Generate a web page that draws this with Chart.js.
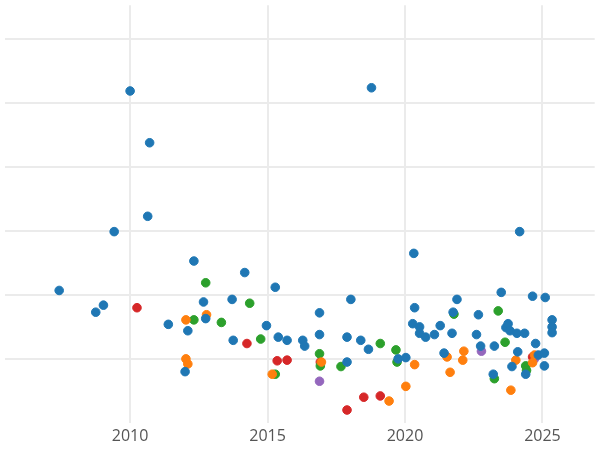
<!DOCTYPE html>
<html lang="en">
<head>
    <meta charset="UTF-8">
    <title>Scatter</title>
    <script src="https://cdn.jsdelivr.net/npm/chart.js"></script>
    <style>
        html, body { margin: 0; padding: 0; background: #fff; }
        #wrap { width: 600px; height: 450px; }
    </style>
</head>
<body>
    <div id="wrap"><canvas id="chartCanvas"></canvas></div>
    <script>
        // [year, value] pairs per group
        const blueData = [[2007.42,1.07],[2008.75,0.73],[2009.03,0.84],[2009.42,1.99],[2010.0,4.19],[2010.71,3.38],[2010.64,2.23],[2011.39,0.54],[2012.0,-0.2],[2012.1,0.44],[2012.32,1.53],[2012.67,0.89],[2012.75,0.63],[2013.75,0.29],[2013.71,0.93],[2014.17,1.35],[2014.96,0.52],[2015.28,1.12],[2015.39,0.34],[2015.71,0.29],[2016.28,0.29],[2016.35,0.2],[2016.89,0.38],[2016.89,0.72],[2017.89,0.34],[2018.03,0.93],[2018.39,0.29],[2018.67,0.15],[2018.78,4.24],[2019.75,0],[2020.03,0.02],[2020.28,0.55],[2020.35,0.8],[2020.32,1.65],[2020.53,0.4],[2020.53,0.5],[2020.75,0.34],[2021.07,0.38],[2021.28,0.52],[2021.42,0.09],[2021.71,0.4],[2021.75,0.73],[2021.89,0.93],[2022.67,0.69],[2022.75,0.2],[2022.6,0.38],[2023.25,0.2],[2023.21,-0.24],[2023.5,1.04],[2023.67,0.49],[2023.75,0.55],[2023.82,0.44],[2023.89,-0.12],[2024.07,0.4],[2024.1,0.11],[2024.17,1.99],[2024.35,0.4],[2024.39,-0.24],[2024.64,0.98],[2024.75,0.24],[2024.85,0.06],[2025.07,0.09],[2025.07,-0.11],[2025.1,0.96],[2025.35,0.61],[2025.35,0.5],[2025.35,0.41],[2017.89,-0.05]];
        const orangeData = [[2012.03,0.61],[2012.03,0],[2012.1,-0.08],[2012.78,0.69],[2015.17,-0.24],[2016.96,-0.05],[2019.42,-0.66],[2020.03,-0.43],[2020.35,-0.09],[2021.53,0.03],[2021.64,-0.21],[2022.1,-0.02],[2022.14,0.12],[2023.85,-0.49],[2024.03,-0.02],[2024.64,-0.06],[2024.71,0.06]];
        const greenData = [[2012.32,0.61],[2012.75,1.19],[2013.32,0.57],[2014.35,0.87],[2014.75,0.31],[2015.28,-0.24],[2016.89,0.08],[2016.92,-0.11],[2017.67,-0.12],[2019.1,0.24],[2019.67,0.14],[2019.71,-0.05],[2021.78,0.7],[2023.25,-0.31],[2023.39,0.75],[2023.64,0.26],[2024.39,-0.11],[2024.42,-0.18]];
        const redData = [[2010.25,0.8],[2014.25,0.24],[2015.35,-0.03],[2015.71,-0.02],[2016.92,-0.05],[2017.89,-0.8],[2018.5,-0.6],[2019.1,-0.58],[2024.64,0.03]];
        const purpleData = [[2016.89,-0.35],[2022.78,0.12],[2024.71,0]];
        const xTicks = [2010, 2015, 2020, 2025];
        const yGrid = [0, 1, 2, 3, 4, 5];

        const groups = [
            [blueData, '#1f77b4'],
            [orangeData, '#ff7f0e'],
            [greenData, '#2ca02c'],
            [redData, '#d62728'],
            [purpleData, '#9467bd']
        ];

        const ctx = document.getElementById('chartCanvas').getContext('2d');
        new Chart(ctx, {
            type: 'scatter',
            data: {
                datasets: groups.map(([pts, color]) => ({
                    data: pts.map(p => ({ x: p[0], y: p[1] })),
                    backgroundColor: color,
                    borderColor: color,
                    pointRadius: 4.3,
                    pointHoverRadius: 4.3
                }))
            },
            options: {
                responsive: true,
                maintainAspectRatio: false,
                animation: false,
                layout: { padding: { left: 0, top: 0, right: 0, bottom: 0 } },
                plugins: { legend: { display: false }, tooltip: { enabled: false } },
                scales: {
                    x: {
                        min: 2005.46,
                        max: 2026.9,
                        afterBuildTicks: axis => { axis.ticks = xTicks.map(v => ({ value: v })); },
                        ticks: { color: '#555', font: { size: 16, family: 'Open Sans' }, padding: 4, callback: v => String(v) },
                        grid: { color: '#ebebeb', lineWidth: 2, drawTicks: false },
                        border: { display: false }
                    },
                    y: {
                        min: -1.0,
                        max: 5.53,
                        afterBuildTicks: axis => { axis.ticks = yGrid.map(v => ({ value: v })); },
                        afterFit: axis => { axis.width = 0; },
                        ticks: { display: false },
                        grid: { color: '#ebebeb', lineWidth: 2, drawTicks: false },
                        border: { display: false }
                    }
                }
            }
        });
    </script>
</body>
</html>
